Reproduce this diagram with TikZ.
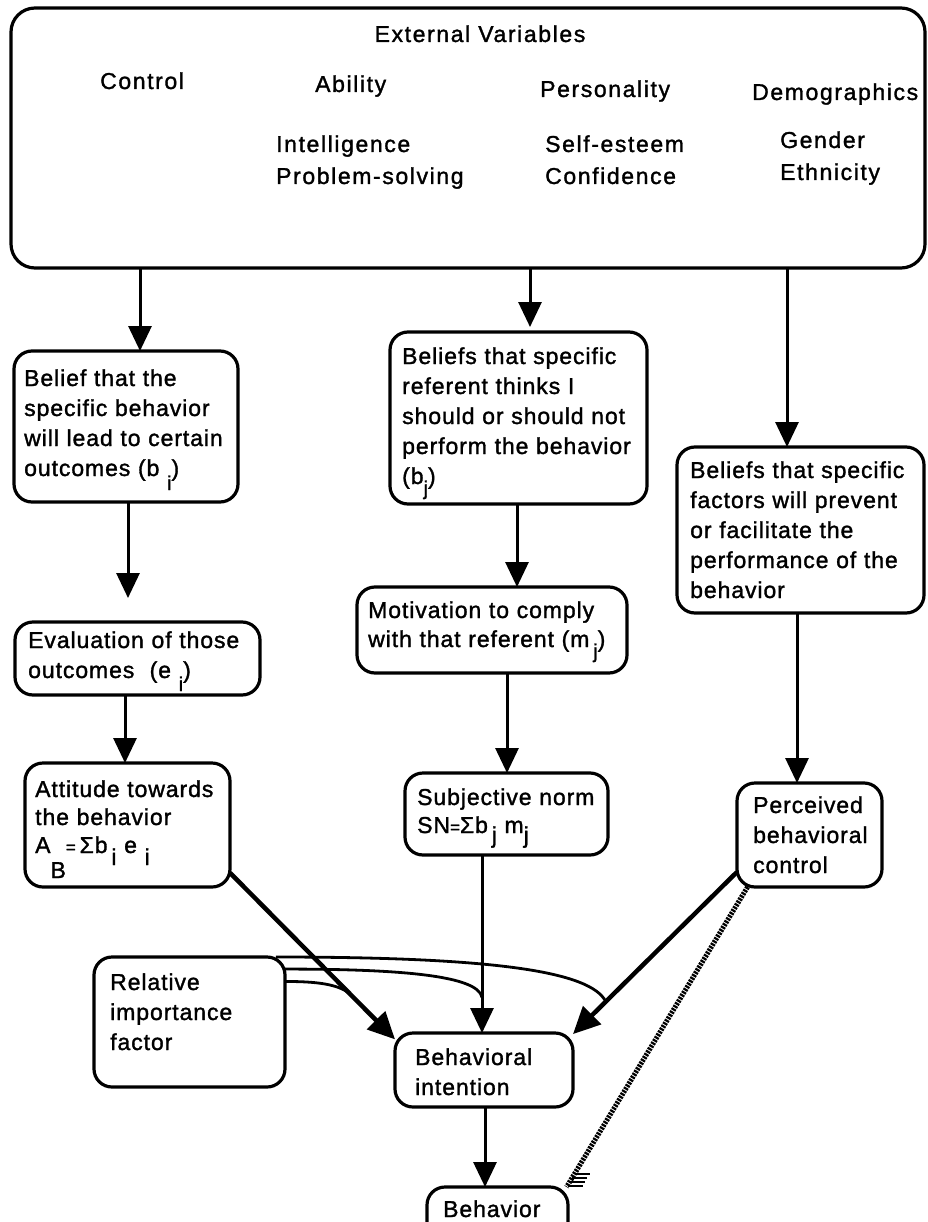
\documentclass[tikz,border=0pt]{standalone}
\usepackage{fontspec}
\setmainfont{Liberation Sans}
\newfontfamily\headfont[LetterSpace=7,FakeBold=1.4]{Liberation Sans}
\newfontfamily\cellfont[LetterSpace=4,FakeBold=1.4]{Liberation Sans}
\usetikzlibrary{arrows.meta,calc}
% index letters set below the baseline
\newcommand{\lowered}[2]{\raisebox{-#1}{#2}}
\newcommand{\smallidx}[2]{\raisebox{-#1}{\fontsize{20}{20}\selectfont #2}}
\newcommand{\smalleq}{{\fontsize{17}{17}\selectfont=}}

\begin{document}
\begin{tikzpicture}[x=1pt,y=-1pt,
  box/.style={draw, line width=3.2pt, rounded corners=18pt, inner sep=0pt, outer sep=0pt},
  head/.style={anchor=base west, inner sep=0pt, text width=260pt, align=left,
               font=\headfont\fontsize{23}{32}\selectfont},
  cell/.style={anchor=base west, inner sep=0pt, text width=280pt, align=left,
               font=\cellfont\fontsize{23}{30}\selectfont},
  arr/.style={line width=3pt, -{Triangle[width=23pt,length=25pt]}},
  heavy/.style={line width=4.5pt, -{Triangle[width=25pt,length=27pt]}},
  weight/.style={line width=2.8pt},
  hatched/.style={line width=5pt, dash pattern=on 2.2pt off 1.1pt},
]
\useasboundingbox (0,0) rectangle (927,1222);

% ---------- boxes ----------
\node[box, rounded corners=24pt, minimum width=914pt, minimum height=260pt] (ext) at (468,138) {};
\node[box, minimum width=224pt, minimum height=151pt] (b1)  at (126,426.5) {};
\node[box, minimum width=257pt, minimum height=172pt] (b2)  at (518.5,418) {};
\node[box, minimum width=247pt, minimum height=166pt] (b3)  at (800.5,530) {};
\node[box, minimum width=245pt, minimum height=73pt]  (ev)  at (137.5,658.5) {};
\node[box, minimum width=205pt, minimum height=124pt] (att) at (127.5,825) {};
\node[box, minimum width=270pt, minimum height=86pt]  (mot) at (492,630) {};
\node[box, minimum width=203pt, minimum height=82pt]  (sn)  at (506.5,814) {};
\node[box, minimum width=145pt, minimum height=104pt] (pbc) at (809.5,835) {};
\node[box, minimum width=191pt, minimum height=130pt] (rif) at (189.5,1022) {};
\node[box, minimum width=178pt, minimum height=74pt]  (bi)  at (484,1070) {};
\node[box, minimum width=141pt, minimum height=53pt]  (beh) at (497.5,1213.5) {};

% ---------- texts of the external variables ----------
\node[anchor=base, inner sep=0pt, font=\headfont\fontsize{23}{32}\selectfont] (tev) at (480,42) {External Variables};
\node[head] (tco) at (100,89) {Control};
\node[head] (tab) at (315,92) {Ability};
\node[head] (tpe) at (540,97) {Personality};
\node[head] (tde) at (752,100) {Demographics};
\node[head] (tab2) at (276,152) {Intelligence\\Problem-solving};
\node[head] (tpe2) at (545,152) {Self-esteem\\Confidence};
\node[head] (tde2) at (780,148) {Gender\\Ethnicity};

% ---------- texts of the boxes ----------
\node[cell] (tb1) at (24,386) {Belief that the\\specific behavior\\will lead to certain\\outcomes (b \smallidx{14pt}{i})};
\node[cell] (tb2) at (402,364) {Beliefs that specific\\referent thinks I\\should or should not\\perform the behavior\\(b\smallidx{11pt}{j})};
\node[cell] (tb3) at (690,478) {\makebox[218pt][s]{Beliefs that specific}\\
  \makebox[218pt][s]{factors will prevent}\\
  \makebox[170pt][s]{or facilitate the}\\
  \makebox[210pt][s]{performance of the}\\
  behavior};
\node[cell] (tev2) at (28,648) {Evaluation of those\\outcomes\ \ (e \smallidx{13pt}{i})};
\node[cell, font=\cellfont\fontsize{23}{28}\selectfont] (tatt) at (35,797)
  {Attitude towards\\the behavior\\A\lowered{25pt}{B}\smalleq\,Σb\,\lowered{12pt}{i} e \lowered{12pt}{i}};
\node[cell, font=\cellfont\fontsize{23}{29}\selectfont] (tmot) at (368,618) {Motivation to comply\\with that referent (m\,\smallidx{11pt}{j})};
\node[cell, font=\cellfont\fontsize{23}{28}\selectfont] (tsn) at (417,805) {Subjective norm\\SN\smalleq Σb\,\lowered{10pt}{j} m\lowered{10pt}{j}};
\node[cell] (tpbc) at (753,813) {Perceived\\behavioral\\control};
\node[cell] (trif) at (110,990) {Relative\\importance\\factor};
\node[cell] (tbi) at (415,1065) {Behavioral\\intention};
\node[cell] (tbeh) at (443,1217) {Behavior};

% ---------- columns of the vertical connectors ----------
\coordinate (xa) at (140,0);
\coordinate (xb) at (530,0);
\coordinate (xc) at (787,0);
\coordinate (xd) at (128,0);
\coordinate (xe) at (125,0);
\coordinate (xf) at (517,0);
\coordinate (xg) at (507,0);
\coordinate (xh) at (797,0);
\coordinate (xi) at (482,0);
\coordinate (xj) at (485,0);

\draw[arr] (ext.south -| xa) -- (b1.north -| xa);
\draw[arr, shorten >=5pt] (ext.south -| xb) -- (b2.north -| xb);
\draw[arr] (ext.south -| xc) -- (b3.north -| xc);
\draw[arr, shorten >=24pt] (b1.south -| xd) -- (ev.north -| xd);
\draw[arr] (ev.south -| xe) -- (att.north -| xe);
\draw[arr] (b2.south -| xf) -- (mot.north -| xf);
\draw[arr] (mot.south -| xg) -- (sn.north -| xg);
\draw[arr] (b3.south -| xh) -- (pbc.north -| xh);
\draw[arr] (sn.south -| xi) -- (bi.north -| xi);
\draw[arr] (bi.south -| xj) -- (beh.north -| xj);

% ---------- weights joining the three paths ----------
\coordinate (j1) at ($(pbc.207)!0.8!(bi.22)$);
\coordinate (j2) at ($(sn.south -| xi)!0.8!(bi.north -| xi)$);
\coordinate (j3) at ($(att.-25)!0.72!(bi.161)$);
\draw[weight] (rif.37) .. controls +(220,0) and +(-15,-30) .. (j1);
\draw[weight] (rif.29) .. controls +(115,0) and +(-4,-22) .. (j2);
\draw[weight] (rif.23) .. controls +(35,0) and +(-12,-8) .. (j3);

% ---------- diagonal connectors ----------
\draw[heavy] (att.-25) -- (bi.161);
\draw[heavy] (pbc.207) -- (bi.22);
\draw[hatched] (pbc.220) -- (beh.21);
\foreach \k in {0,1,2,3}
  \draw[line width=1.8pt] ([shift={(1+2.4*\k,-1-4*\k)}]beh.21) -- ++(15,0);

\end{tikzpicture}
\end{document}
